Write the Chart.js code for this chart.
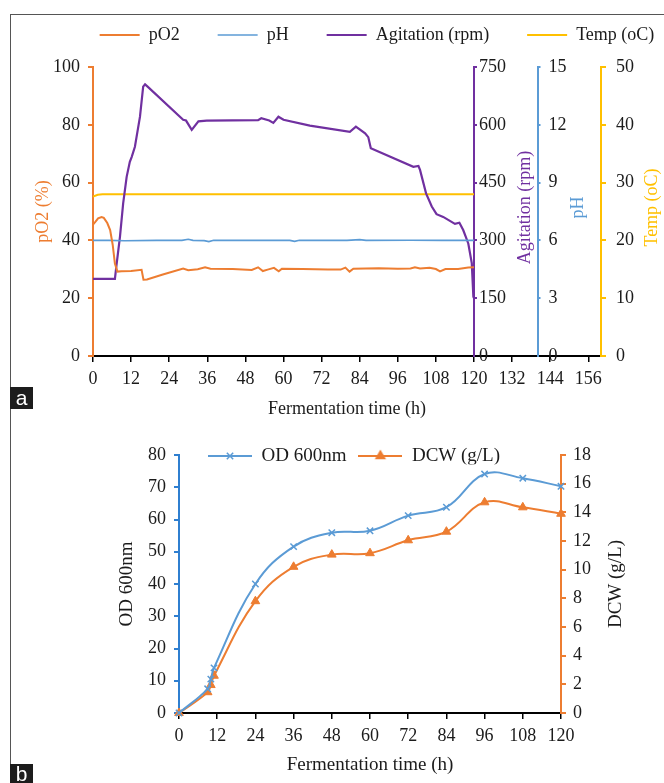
<!DOCTYPE html>
<html>
<head>
<meta charset="utf-8">
<script src="https://cdn.jsdelivr.net/npm/chart.js@4.4.1/dist/chart.umd.min.js"></script>
<style>
  html, body { margin: 0; padding: 0; background: #fff; }
  body { width: 664px; height: 783px; position: relative; overflow: hidden; }
  .frame { position: absolute; left: 10px; top: 14px; width: 700px; height: 800px;
    border-top: 1.5px solid #555; border-left: 1.5px solid #555; }
  .panel { position: absolute; left: 0; width: 664px; }
  #boxA { top: 0; height: 420px; }
  #boxB { top: 420px; height: 363px; }
  .tag { position: absolute; left: 10px; width: 23px; background: #1c1c1c; color: #fff;
    font-family: "Liberation Sans", Arial, sans-serif; font-size: 21px; text-align: center; z-index: 2; }
  #tagA { top: 387px; height: 22px; line-height: 21px; }
  #tagB { top: 764px; height: 19px; line-height: 19px; }
</style>
</head>
<body>
<div class="frame"></div>
<div class="panel" id="boxA"><canvas id="chartA"></canvas></div>
<div class="panel" id="boxB"><canvas id="chartB"></canvas></div>
<div class="tag" id="tagA">a</div>
<div class="tag" id="tagB">b</div>
<script>
'use strict';

// chart a : fermenter log
var hourTicksA = [0, 12, 24, 36, 48, 60, 72, 84, 96, 108, 120, 132, 144, 156];
var pO2Ticks = [0, 20, 40, 60, 80, 100];
var agitationTicks = [0, 150, 300, 450, 600, 750];
var phTicks = [0, 3, 6, 9, 12, 15];
var tempTicks = [0, 10, 20, 30, 40, 50];

var pO2Hours = [0, 0.8, 1.6, 2.7, 3.4, 4.5, 5.4, 6.2, 6.9, 7.7, 9, 12, 15.3, 15.9, 17, 22, 28.4, 30, 33, 35.3,
  37, 44, 50, 52, 53.5, 55, 57, 58.5, 59.5, 66, 74, 78, 79.5, 80.8, 82, 90, 96, 100, 101.4, 103,
  106, 108, 109.3, 111, 115, 118.2, 120];
var pO2Values = [45.5, 46.5, 47.6, 48.1, 47.8, 46, 43.6, 38.5, 32, 29.2, 29.3, 29.4, 29.8, 26.4, 26.5, 28.2, 30.3, 29.7, 30, 30.7,
  30.2, 30.1, 29.8, 30.7, 29.4, 29.9, 30.5, 29.3, 30.2, 30.1, 29.9, 29.9, 30.6, 29.2, 30.2, 30.4, 30.2, 30.3, 30.7, 30.3,
  30.5, 30.1, 29.3, 30.1, 30.1, 30.6, 30.7];

var phHours = [0, 5, 10, 20, 28, 30, 31.5, 35, 36.5, 38, 50, 62, 63.5, 65, 80, 84, 86, 100, 110, 120];
var phValues = [6.0, 6.0, 5.98, 6.0, 6.0, 6.06, 6.0, 5.99, 5.94, 6.01, 6.0, 6.0, 5.95, 6.01, 6.0, 6.04, 6.0, 6.01, 6.0, 6.0];

var agitationHours = [0, 6.9, 7.4, 8.5, 9.5, 10.6, 11.6, 12.2, 13.2, 14.8, 15.8, 16.4, 17.2, 28.4, 29.3, 31.1, 33.2, 35.8, 52, 53,
  55.5, 56.8, 58.4, 60, 68.3, 80.9, 82.8, 85.7, 86.7, 87.5, 100.9, 102.5, 103, 104.9, 106.7, 108.2, 110.3, 114, 115.4, 116.6,
  118.2, 119.3, 119.8, 120];
var agitationValues = [200, 200, 236, 310, 396, 465, 504, 517, 543, 621, 699, 705, 699, 613, 611, 587, 609, 611, 612, 617,
  611, 605, 621, 613, 598, 582, 595, 578, 568, 539, 491, 493, 483, 422, 388, 368, 361, 343, 346, 327,
  292, 241, 154, 150];

var tempHours = [0, 1.5, 3, 120];
var tempValues = [27.6, 27.9, 28, 28];

// chart b : growth
var hourTicksB = [0, 12, 24, 36, 48, 60, 72, 84, 96, 108, 120];
var odTicks = [0, 10, 20, 30, 40, 50, 60, 70, 80];
var dcwTicks = [0, 2, 4, 6, 8, 10, 12, 14, 16, 18];
var sampleHours = [0, 9, 10, 11, 24, 36, 48, 60, 72, 84, 96, 108, 120];
var odValues = [0, 7.5, 10.5, 14, 40, 51.6, 55.9, 56.5, 61.2, 63.8, 74.1, 72.8, 70.3];
var dcwValues = [0, 1.45, 1.95, 2.6, 7.8, 10.2, 11.05, 11.15, 12.05, 12.65, 14.7, 14.35, 13.9];

var ORANGE = '#ED7D31';
var BLUE = '#5B9BD5';
var PURPLE = '#7030A0';
var YELLOW = '#FFC000';
var AXIS_BLUE = '#2F7FD0';
var INK = '#1b1b1b';

Chart.defaults.font.family = '"Liberation Serif", "Times New Roman", serif';
Chart.defaults.color = INK;

function pairs(xs, ys) {
  return xs.map(function (x, i) { return { x: x, y: ys[i] }; });
}

function fixedTicks(list) {
  return function (scale) {
    scale.ticks = list.map(function (v) { return { value: v }; });
  };
}

// puts axes at given hours, moves the legend, writes right-side titles upward
function layoutPlugin(cfg) {
  return {
    id: 'panelLayout',
    afterLayout: function (chart) {
      var xs = chart.scales.x;
      Object.keys(cfg.axisAt || {}).forEach(function (id) {
        var s = chart.scales[id];
        var px = xs.getPixelForValue(cfg.axisAt[id]);
        s.left = px;
        s.right = px + 50;
        s.width = 50;
        s._labelItems = null;
        s._gridLineItems = null;
      });
      var lg = chart.legend;
      var dx = cfg.legendAt[0] - (lg.left + lg.right) / 2;
      var dy = cfg.legendAt[1] - (lg.top + cfg.legendPad + cfg.legendFont / 2);
      lg.left += dx; lg.right += dx;
      lg.top += dy; lg.bottom += dy;
    },
    afterDraw: function (chart) {
      var ctx = chart.ctx;
      var area = chart.chartArea;
      cfg.sideTitles.forEach(function (t) {
        var s = chart.scales[t.id];
        ctx.save();
        ctx.translate(s.left + t.dx, (area.top + area.bottom) / 2 + t.dy);
        ctx.rotate(-Math.PI / 2);
        ctx.font = t.size + 'px "Liberation Serif", "Times New Roman", serif';
        ctx.fillStyle = s.options.title.color;
        ctx.textAlign = 'center';
        ctx.textBaseline = 'middle';
        ctx.fillText(s.options.title.text, 0, 0);
        ctx.restore();
      });
    }
  };
}

function sideAxis(min, max, list, color, tickLen, pad, title, width) {
  return {
    position: 'right', min: min, max: max,
    afterBuildTicks: fixedTicks(list),
    afterFit: function (s) { s.width = width; },
    border: { color: color, width: 2 },
    grid: { drawOnChartArea: false, color: color, tickLength: tickLen, lineWidth: 2 },
    ticks: { color: INK, font: { size: 18 }, padding: pad },
    title: { display: false, text: title, color: color }
  };
}

// ---------- chart a ----------
new Chart(document.getElementById('chartA'), {
  type: 'line',
  data: {
    datasets: [
      { label: 'pO2', data: pairs(pO2Hours, pO2Values), yAxisID: 'y',
        borderColor: ORANGE, backgroundColor: ORANGE, borderWidth: 2 },
      { label: 'pH', data: pairs(phHours, phValues), yAxisID: 'yPh',
        borderColor: BLUE, backgroundColor: BLUE, borderWidth: 1.6 },
      { label: 'Agitation (rpm)', data: pairs(agitationHours, agitationValues), yAxisID: 'yAg',
        borderColor: PURPLE, backgroundColor: PURPLE, borderWidth: 2.2 },
      { label: 'Temp (oC)', data: pairs(tempHours, tempValues), yAxisID: 'yT',
        borderColor: YELLOW, backgroundColor: YELLOW, borderWidth: 2 }
    ]
  },
  options: {
    responsive: true,
    maintainAspectRatio: false,
    animation: false,
    events: [],
    elements: { point: { radius: 0 }, line: { tension: 0 } },
    layout: { padding: 0 },
    plugins: {
      tooltip: { enabled: false },
      legend: {
        position: 'top',
        labels: { usePointStyle: true, pointStyle: 'line', pointStyleWidth: 40,
          padding: 38, color: INK, font: { size: 18 } }
      }
    },
    scales: {
      x: {
        type: 'linear', min: 0, max: 160,
        afterBuildTicks: fixedTicks(hourTicksA),
        afterFit: function (s) { s.height = 64; },
        border: { color: '#000', width: 2 },
        grid: { drawOnChartArea: false, color: '#000', tickLength: 6, lineWidth: 1.5 },
        ticks: { color: INK, font: { size: 18 }, padding: 6, maxRotation: 0, autoSkip: false },
        title: { display: true, text: 'Fermentation time (h)', color: INK, font: { size: 18 },
          padding: { top: 0, bottom: 0 } }
      },
      y: {
        position: 'left', min: 0, max: 100,
        afterBuildTicks: fixedTicks(pO2Ticks),
        afterFit: function (s) { s.width = 93; s.paddingTop = 67; },
        border: { color: ORANGE, width: 2 },
        grid: { drawOnChartArea: false, color: ORANGE, tickLength: 5, lineWidth: 2 },
        ticks: { color: INK, font: { size: 18 }, padding: 8 },
        title: { display: true, text: 'pO2 (%)', color: ORANGE, font: { size: 18 }, padding: { top: 32 } }
      },
      yT: sideAxis(0, 50, tempTicks, YELLOW, 5, 10, 'Temp (oC)', 63),
      yAg: sideAxis(0, 750, agitationTicks, PURPLE, 3, 2, 'Agitation (rpm)', 0),
      yPh: sideAxis(0, 15, phTicks, BLUE, 3, 8, 'pH', 0)
    }
  },
  plugins: [layoutPlugin({
    axisAt: { yAg: 120, yPh: 140 },
    legendAt: [377, 35], legendPad: 38, legendFont: 18,
    sideTitles: [
      { id: 'yAg', dx: 51, dy: -4, size: 18 },
      { id: 'yPh', dx: 41, dy: -4, size: 18 },
      { id: 'yT', dx: 51, dy: -4, size: 18 }
    ]
  })]
});

// ---------- chart b ----------
function legendIcon(color, style, radius) {
  var c = document.createElement('canvas');
  c.width = 44;
  c.height = 14;
  var ctx = c.getContext('2d');
  ctx.strokeStyle = color;
  ctx.fillStyle = color;
  ctx.lineWidth = 2;
  ctx.beginPath();
  ctx.moveTo(0, 7);
  ctx.lineTo(44, 7);
  ctx.stroke();
  if (Chart.helpers && Chart.helpers.drawPoint) {
    ctx.lineWidth = 1.5;
    Chart.helpers.drawPoint(ctx, { pointStyle: style, radius: radius, borderWidth: 1.5, rotation: 0 }, 22, 7);
  }
  return c;
}
var legendIcons = [legendIcon(BLUE, 'crossRot', 4.5), legendIcon(ORANGE, 'triangle', 5)];

new Chart(document.getElementById('chartB'), {
  type: 'line',
  data: {
    datasets: [
      { label: 'OD 600nm', data: pairs(sampleHours, odValues), yAxisID: 'y',
        borderColor: BLUE, backgroundColor: BLUE, borderWidth: 2,
        pointStyle: 'crossRot', pointRadius: 4.5, pointBorderWidth: 1.5, pointBorderColor: BLUE,
        tension: 0.4, clip: false },
      { label: 'DCW (g/L)', data: pairs(sampleHours, dcwValues), yAxisID: 'yDcw',
        borderColor: ORANGE, backgroundColor: ORANGE, borderWidth: 2,
        pointStyle: 'triangle', pointRadius: 5, pointBorderWidth: 1, pointBackgroundColor: ORANGE,
        tension: 0.4, clip: false }
    ]
  },
  options: {
    responsive: true,
    maintainAspectRatio: false,
    animation: false,
    events: [],
    layout: { padding: 0 },
    plugins: {
      tooltip: { enabled: false },
      legend: {
        position: 'top',
        maxHeight: 30,
        labels: {
          usePointStyle: true, pointStyleWidth: 44, padding: 12, color: INK, font: { size: 19 },
          generateLabels: function (chart) {
            var items = Chart.defaults.plugins.legend.labels.generateLabels(chart);
            items.forEach(function (it, i) { it.pointStyle = legendIcons[i]; });
            return items;
          }
        }
      }
    },
    scales: {
      x: {
        type: 'linear', min: 0, max: 120,
        afterBuildTicks: fixedTicks(hourTicksB),
        afterFit: function (s) { s.height = 70; },
        border: { color: '#000', width: 2 },
        grid: { drawOnChartArea: false, color: '#000', tickLength: 6, lineWidth: 1.5 },
        ticks: { color: INK, font: { size: 18 }, padding: 6, maxRotation: 0, autoSkip: false },
        title: { display: true, text: 'Fermentation time (h)', color: INK, font: { size: 19 },
          padding: { top: 0, bottom: 7 } }
      },
      y: {
        position: 'left', min: 0, max: 80,
        afterBuildTicks: fixedTicks(odTicks),
        afterFit: function (s) { s.width = 179; s.paddingTop = 35; },
        border: { color: AXIS_BLUE, width: 2 },
        grid: { drawOnChartArea: false, color: AXIS_BLUE, tickLength: 5, lineWidth: 2 },
        ticks: { color: INK, font: { size: 18 }, padding: 8 },
        title: { display: true, text: 'OD 600nm', color: INK, font: { size: 19 }, padding: { top: 116 } }
      },
      yDcw: {
        position: 'right', min: 0, max: 18,
        afterBuildTicks: fixedTicks(dcwTicks),
        afterFit: function (s) { s.width = 103; },
        border: { color: ORANGE, width: 2 },
        grid: { drawOnChartArea: false, color: ORANGE, tickLength: 5, lineWidth: 2 },
        ticks: { color: INK, font: { size: 18 }, padding: 7 },
        title: { display: false, text: 'DCW (g/L)', color: INK }
      }
    }
  },
  plugins: [layoutPlugin({
    legendAt: [354, 36], legendPad: 12, legendFont: 19,
    sideTitles: [{ id: 'yDcw', dx: 55, dy: 0, size: 19 }]
  })]
});
</script>
</body>
</html>
